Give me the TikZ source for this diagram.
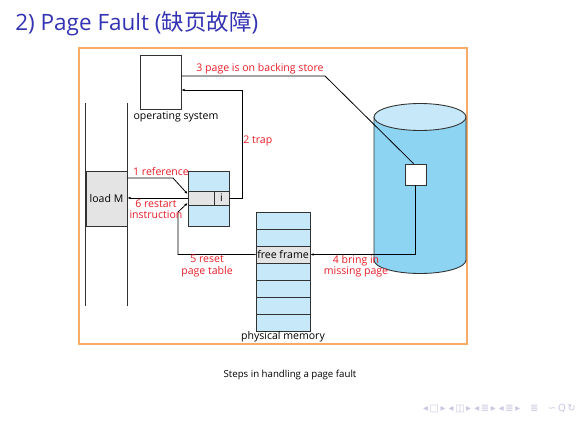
\documentclass[tikz,border=0pt]{standalone}
\usepackage{fontspec}
\setmainfont{Open Sans}
\newfontfamily\cjk{Noto Sans CJK SC}
\newfontfamily\symfont{DejaVu Sans}
\usetikzlibrary{arrows.meta}

\definecolor{titleblue}{RGB}{51,51,179}
\definecolor{frameorange}{RGB}{246,172,104}
\definecolor{stepred}{RGB}{232,28,40}
\definecolor{tableblue}{RGB}{198,232,248}
\definecolor{diskblue}{RGB}{140,212,242}
\definecolor{cellgray}{RGB}{228,228,228}
\definecolor{boxline}{RGB}{50,50,50}
\definecolor{navgray}{RGB}{200,200,226}

\tikzset{
  box/.style={draw=boxline,line width=0.5pt,inner sep=0pt,font=\fontsize{6}{7}\selectfont},
  steplbl/.style={text=stepred,inner sep=0pt,align=center,font=\fontsize{6}{6.4}\selectfont},
  plainlbl/.style={inner sep=0pt,font=\fontsize{6}{7}\selectfont},
  wire/.style={draw=black,line width=0.45pt},
  arr/.style={wire,-{Latex[length=1.8pt,width=1.5pt]}}
}

\begin{document}
\begin{tikzpicture}[x=0.02cm,y={(0cm,-0.02cm)}]
    \useasboundingbox (0,0) rectangle (580,435);
    %Title
    \node[anchor=base west,inner sep=0pt,text=titleblue,font=\fontsize{12.8}{15}\selectfont] (title) at (15,31) {2) Page Fault ({\cjk 缺页故障})};
    %Frame
    \draw[frameorange,line width=0.7pt] (79,48) rectangle (467,344);
    %Operating system
    \node[box,minimum width=0.82cm,minimum height=1.08cm] (os) at (160.5,82) {};
    \node[plainlbl] (oslbl) at (176,117) {operating system};
    %Process
    \node[box,fill=cellgray,minimum width=0.82cm,minimum height=1.10cm] (loadm) at (106.5,198.5) {load M};
    \draw[boxline,line width=0.5pt] (loadm.north west |- 0,103) -- (loadm.south west |- 0,306);
    \draw[boxline,line width=0.5pt] (loadm.north east |- 0,103) -- (loadm.south east |- 0,306);
    %Page table
    \node[box,fill=tableblue,minimum width=0.82cm,minimum height=1.10cm] (pt) at (208.5,198.5) {};
    \node[box,fill=cellgray,minimum width=0.52cm,minimum height=0.28cm] (entry) at (201,198) {};
    \node[box,fill=cellgray,minimum width=0.30cm,minimum height=0.28cm] (vbit) at (221.5,198) {i};
    %Physical memory
    \foreach \r in {0,...,6}
        \node[box,fill=tableblue,minimum width=1.08cm,minimum height=0.34cm] (pm\r) at (283,220.5+17*\r) {};
    \node[box,fill=cellgray,minimum width=1.08cm,minimum height=0.34cm] (pm2) at (283,254.5) {free frame};
    \node[plainlbl] (pmlbl) at (283,337) {physical memory};
    %Backing store
    \draw[boxline,line width=0.5pt,fill=diskblue] (374,117) -- (374,260)
        arc[start angle=180,end angle=360,x radius=0.92cm,y radius=0.27cm] -- (466,117);
    \draw[boxline,line width=0.5pt,fill=tableblue] (420,117) ellipse [x radius=0.92cm,y radius=0.27cm];
    \node[box,fill=white,minimum width=0.42cm,minimum height=0.42cm] (blk) at (415.5,174.5) {};
    %Steps
    \draw[arr] (loadm.east |- 0,178) -- (173,178) -- ([yshift=0.08cm]entry.west);
    \node[steplbl] (s1) at (161,172) {1 reference};
    \draw[arr] (vbit.east) -- (242,198) -- (242,90) -- (os.east |- 0,90);
    \node[steplbl,anchor=west] (s2) at (243,141) {2 trap};
    \draw[wire] (os.east |- 0,76) -- (325,76) -- ([xshift=-0.04cm]blk.north);
    \node[steplbl] (s3) at (260,69) {3 page is on backing store};
    \draw[arr] (blk.south) |- (pm2.east);
    \node[steplbl] (s4) at (356,266.5) {4 bring in\\missing page};
    \draw[arr] (pm2.west) -| (178,212) -- ([yshift=-0.1cm]entry.west);
    \node[steplbl] (s5) at (207,266) {5 reset\\page table};
    \draw[arr] (entry.west) -- (loadm.east |- entry.west);
    \node[steplbl] (s6) at (156,209.5) {6 restart\\instruction};
    %Caption
    \node[plainlbl,font=\fontsize{5.5}{6.5}\selectfont] (caption) at (290,375) {Steps in handling a page fault};
    %Navigation
    \node[anchor=east,inner sep=0pt,text=navgray,font=\symfont\fontsize{5.6}{6.5}\selectfont] (nav) at (576,408)
        {◂\,□\,▸\ ◂\,◫\,▸\ ◂\,≣\,▸\ ◂\,≣\,▸\quad ≣\quad ∽\,Q\,↻};
\end{tikzpicture}
\end{document}
